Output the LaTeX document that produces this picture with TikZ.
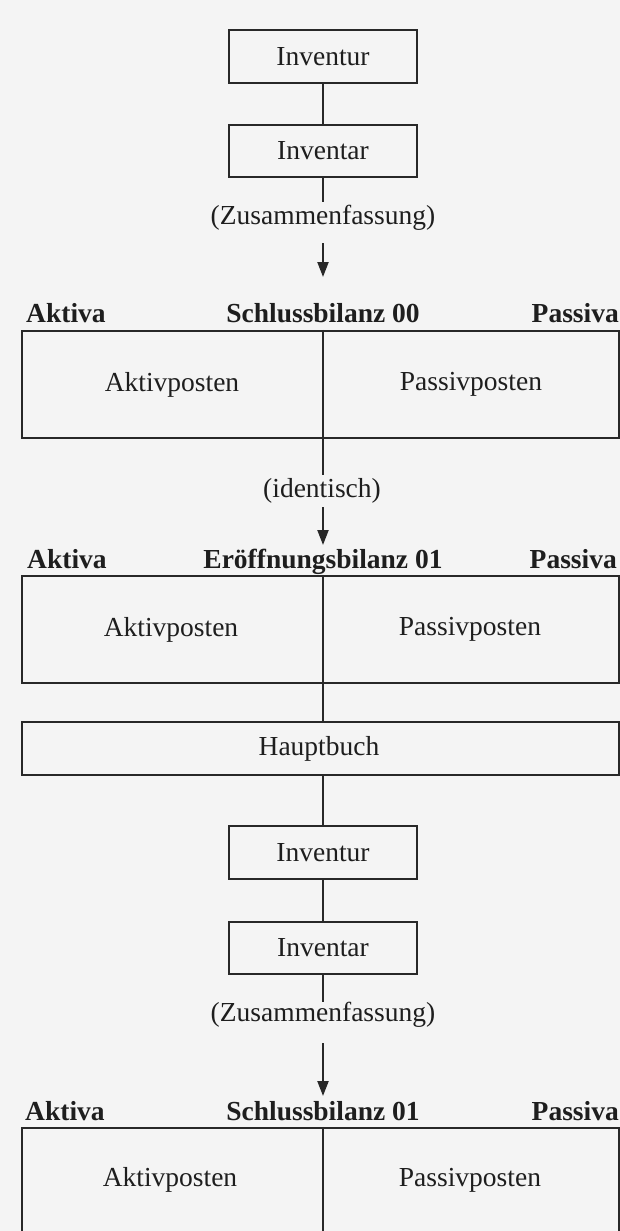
\documentclass[tikz,border=0pt]{standalone}
\usepackage{fontspec}
\setmainfont{Liberation Serif}
\usetikzlibrary{arrows.meta}
\definecolor{bgc}{RGB}{244,244,244}
\definecolor{linec}{RGB}{40,40,40}
\definecolor{txtc}{RGB}{30,30,30}
\tikzset{
  every node/.style={font=\fontsize{27.5}{33}\selectfont, text=txtc},
  box/.style={draw=linec, line width=2.2pt, inner sep=0pt},
  lbl/.style={font=\fontsize{27.5}{33}\selectfont\bfseries, inner sep=0pt},
  txt/.style={inner sep=0pt},
  conn/.style={draw=linec, line width=2.2pt},
  arr/.style={conn, -{Triangle[length=15pt,width=11pt]}}
}
\begin{document}
\begin{tikzpicture}[x=1pt,y=-1pt]
\fill[bgc] (0,0) rectangle (620,1231);
\useasboundingbox (0,0) rectangle (620,1231);

% top block
\node[box, minimum width=188pt, minimum height=53pt] (inv1) at (323,56.5) {Inventur};
\node[box, minimum width=188pt, minimum height=52pt] (inr1) at (323,151) {Inventar};
\draw[conn] (inv1) -- (inr1);
\node[txt, anchor=base] (zus1) at (323,224) {(Zusammenfassung)};
\coordinate (z1top) at (323,202);
\coordinate (z1bot) at (323,243);
\coordinate (a0tip) at (323,277);
\draw[conn] (inr1.south) -- (z1top);
\draw[arr] (z1bot) -- (a0tip);

% Schlussbilanz 00
\node[lbl, anchor=base west] (ak0) at (26,322) {Aktiva};
\node[lbl, anchor=base] (t0) at (323,322) {Schlussbilanz 00};
\node[lbl, anchor=base east] (pa0) at (619,322) {Passiva};
\node[box, minimum width=597pt, minimum height=107pt] (sb0) at (320.5,384.5) {};
\node[txt] (ap0) at (172,384.5) {Aktivposten};
\node[txt] (pp0) at (471,384.5) {Passivposten};
\coordinate (id0top) at (323,475);
\draw[conn] (sb0.north -| t0) -- (id0top);
\node[txt, anchor=base] (id0) at (322,497) {(identisch)};
\coordinate (id0bot) at (323,507);
\coordinate (a1tip) at (323,545);
\draw[arr] (id0bot) -- (a1tip);

% Eroeffnungsbilanz 01
\node[lbl, anchor=base west] (ak1) at (27,568) {Aktiva};
\node[lbl, anchor=base] (t1) at (323,568) {Eröffnungsbilanz 01};
\node[lbl, anchor=base east] (pa1) at (617,568) {Passiva};
\node[box, minimum width=597pt, minimum height=107pt] (eb1) at (320.5,629.5) {};
\node[txt] (ap1) at (171,629.5) {Aktivposten};
\node[txt] (pp1) at (470,629.5) {Passivposten};
\node[box, minimum width=597pt, minimum height=53pt] (hb) at (320.5,748.5) {};
\node[txt] (hbt) at (319,748.5) {Hauptbuch};
\draw[conn] (eb1.north -| t1) -- (hb.north -| t1);

% second Inventur / Inventar
\node[box, minimum width=188pt, minimum height=53pt] (inv2) at (323,852.5) {Inventur};
\node[box, minimum width=188pt, minimum height=52pt] (inr2) at (323,948) {Inventar};
\draw[conn] (hb.south -| inv2) -- (inv2.north);
\draw[conn] (inv2) -- (inr2);
\node[txt, anchor=base] (zus2) at (323,1021) {(Zusammenfassung)};
\coordinate (z2top) at (323,1002);
\coordinate (z2bot) at (323,1043);
\coordinate (a2tip) at (323,1096);
\draw[conn] (inr2.south) -- (z2top);
\draw[arr] (z2bot) -- (a2tip);

% Schlussbilanz 01
\node[lbl, anchor=base west] (ak2) at (25,1120) {Aktiva};
\node[lbl, anchor=base] (t2) at (323,1120) {Schlussbilanz 01};
\node[lbl, anchor=base east] (pa2) at (619,1120) {Passiva};
\node[box, minimum width=597pt, minimum height=107pt] (sb1) at (320.5,1181.5) {};
\node[txt] (ap2) at (170,1180) {Aktivposten};
\node[txt] (pp2) at (470,1180) {Passivposten};
\draw[conn] (sb1.north -| t2) -- (sb1.south -| t2);
\end{tikzpicture}
\end{document}
